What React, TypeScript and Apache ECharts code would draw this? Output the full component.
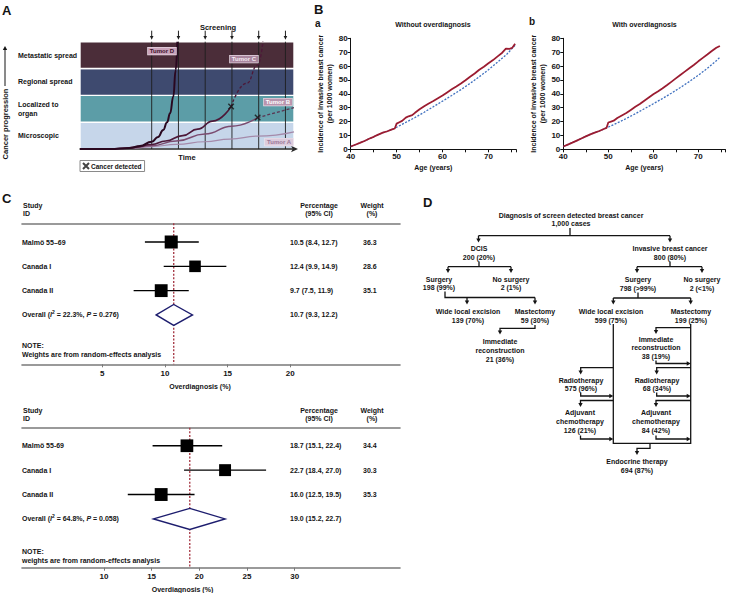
import { useEffect, useRef } from "react";
import * as echarts from "echarts";

const FONT = '"Liberation Sans", Arial, Helvetica, sans-serif';
const INK = "#141414";

// ---------- Panel A data ----------
const bandNames = ["Microscopic", "Localized to\norgan", "Regional spread", "Metastatic spread"];
const screeningTimes = [33.5, 46, 58.5, 71, 83.5, 96];
const tumorA = [[0, 0], [14, 0], [25, 0.03], [33.5, 0.09], [45, 0.17], [58.4, 0.27], [70, 0.37], [83, 0.48], [100, 0.64]];
const tumorBSolid = [[0, 0], [14, 0], [22, 0.03], [33.5, 0.12], [45, 0.3], [58.4, 0.56], [70.9, 0.85], [83, 1.17]];
const tumorBDashed = [[83, 1.17], [100, 1.54]];
const tumorCSolid = [[0, 0], [14, 0], [20, 0.02], [26, 0.07], [33.5, 0.17], [40, 0.3], [48, 0.5], [55, 0.74], [62, 1.04], [70.6, 1.58]];
const tumorCDashed = [[70.6, 1.58], [77.9, 2.45], [83, 3.13], [85.5, 4]];
const tumorD = [[0, 0], [14, 0], [23.4, 0.04], [28, 0.11], [33.5, 0.27], [36.5, 0.45], [38.9, 0.71], [40.7, 1.0], [42.1, 1.33], [43.6, 1.95], [44.7, 2.94], [45.5, 4]];
const detectedPoints = [[70.6, 1.58], [83, 1.17]];
const tumorLabelNames = ["Tumor D", "Tumor C", "Tumor B", "Tumor A"];
const tumorLabelAnchors = [[38.3, 3.65], [76.6, 3.35], [92.5, 1.75], [93, 0.26]];

// ---------- Panel B data ----------
const ageARed = [40, 41, 42, 43, 44, 45, 46, 47, 48, 49, 49.6, 50, 50.6, 51.2, 52, 52.6, 53.4, 54, 55, 56, 57, 58, 59, 60, 61, 62, 63, 64, 65, 66, 67, 68, 69, 70, 71, 72, 73, 73.8, 74.6, 75.2, 75.8];
const incARed = [2, 3.3, 4.6, 6, 7.6, 9, 10.6, 12, 13, 14.3, 15, 18.5, 19.5, 20.5, 22.8, 23.8, 24.6, 26.3, 28.8, 31, 33, 34.8, 36.8, 38.8, 41, 43.2, 45.3, 47.5, 49.8, 52.3, 54.6, 57.3, 59.5, 62, 64.3, 67, 69.6, 72.5, 72.4, 73.2, 76];
const ageABlue = [40, 41, 42, 43, 44, 45, 46, 47, 48, 49, 50, 52, 54, 56, 58, 60, 62, 64, 66, 68, 70, 72, 74, 75.8];
const incABlue = [2, 3.3, 4.6, 6, 7.6, 9, 10.6, 12, 13, 14.3, 15.9, 19.4, 22.9, 26.7, 30.7, 34.7, 38.8, 43, 47.5, 52.3, 57.3, 62.8, 68.5, 75];
const ageBRed = [40, 41, 42, 43, 44, 45, 46, 47, 48, 49, 49.6, 50, 50.6, 51.2, 52, 53, 54, 55, 56, 57, 58, 59, 60, 61, 62, 63, 64, 65, 66, 67, 68, 69, 70, 71, 72, 73, 74, 74.8];
const incBRed = [2, 3.4, 4.8, 6.3, 7.8, 9.3, 10.8, 12, 13.2, 14.6, 15.4, 19.3, 20, 20.6, 22.6, 24.4, 26.2, 28.4, 30.6, 32.6, 35, 37.3, 39.6, 41.6, 43.8, 46.1, 48.6, 51.1, 53.6, 56, 58.4, 60.8, 63.4, 65.9, 68.3, 70.8, 73.2, 74.5];
const ageBBlue = [40, 41, 42, 43, 44, 45, 46, 47, 48, 49, 50, 52, 54, 56, 58, 60, 62, 64, 66, 68, 70, 72, 74, 74.8];
const incBBlue = [2, 3.4, 4.8, 6.3, 7.8, 9.3, 10.8, 12, 13.2, 14.6, 16, 19, 22.2, 25.6, 29.2, 32.8, 36.5, 40.4, 44.5, 48.8, 53.4, 58.3, 63.8, 66.3];

// ---------- Panel C data ----------
const c1Names = ["Malmö 55–69", "Canada I", "Canada II"];
const c1Est = [10.5, 12.4, 9.7];
const c1Lo = [8.4, 9.9, 7.5];
const c1Hi = [12.7, 14.9, 11.9];
const c1Weight = [36.3, 28.6, 35.1];
const c1Overall = [10.7, 9.3, 12.2];
const c1Het = ["22.3%", "0.276"];
const c1Ticks = [5, 10, 15, 20];

const c2Names = ["Malmö 55-69", "Canada I", "Canada II"];
const c2Est = [18.7, 22.7, 16.0];
const c2Lo = [15.1, 18.4, 12.5];
const c2Hi = [22.4, 27.0, 19.5];
const c2Weight = [34.4, 30.3, 35.3];
const c2Overall = [19.0, 15.2, 22.7];
const c2Het = ["64.8%", "0.058"];
const c2Ticks = [10, 15, 20, 25, 30];

// ---------- Panel D (flow diagram) ----------
const flowNodes: { x: number; y: number; lines: string[] }[] = [
  { x: 571, y: 215, lines: ["Diagnosis of screen detected breast cancer", "1,000 cases"] },
  { x: 479, y: 248.8, lines: ["DCIS", "200 (20%)"] },
  { x: 670, y: 248.8, lines: ["Invasive breast cancer", "800 (80%)"] },
  { x: 439, y: 279, lines: ["Surgery", "198 (99%)"] },
  { x: 511, y: 279, lines: ["No surgery", "2 (1%)"] },
  { x: 468, y: 311.5, lines: ["Wide local excision", "139 (70%)"] },
  { x: 535, y: 311.5, lines: ["Mastectomy", "59 (30%)"] },
  { x: 500, y: 341.7, lines: ["Immediate", "reconstruction", "21 (36%)"] },
  { x: 638, y: 279.5, lines: ["Surgery", "798 (>99%)"] },
  { x: 702, y: 279.5, lines: ["No surgery", "2 (<1%)"] },
  { x: 611, y: 311.5, lines: ["Wide local excision", "599 (75%)"] },
  { x: 691, y: 311.5, lines: ["Mastectomy", "199 (25%)"] },
  { x: 656, y: 339, lines: ["Immediate", "reconstruction", "38 (19%)"] },
  { x: 581, y: 380, lines: ["Radiotherapy", "575 (96%)"] },
  { x: 657, y: 380, lines: ["Radiotherapy", "68 (34%)"] },
  { x: 580, y: 412.7, lines: ["Adjuvant", "chemotherapy", "126 (21%)"] },
  { x: 656, y: 412.7, lines: ["Adjuvant", "chemotherapy", "84 (42%)"] },
  { x: 637, y: 461.7, lines: ["Endocrine therapy", "694 (87%)"] },
];
const flowLinks: { pts: number[][]; arrow?: boolean }[] = [
  { pts: [[570, 228], [570, 235.7]] },
  { pts: [[478.5, 235.7], [670, 235.7]] },
  { pts: [[478.5, 235.7], [478.5, 242.5]], arrow: true },
  { pts: [[670, 235.7], [670, 242.5]], arrow: true },
  { pts: [[479, 261.5], [479, 266.7]] },
  { pts: [[448, 266.7], [511, 266.7]] },
  { pts: [[448, 266.7], [448, 273]], arrow: true },
  { pts: [[511, 266.7], [511, 273]], arrow: true },
  { pts: [[670, 261.5], [670, 266.7]] },
  { pts: [[637, 266.7], [702, 266.7]] },
  { pts: [[637, 266.7], [637, 273]], arrow: true },
  { pts: [[702, 266.7], [702, 273]], arrow: true },
  { pts: [[445, 291.5], [445, 297.5], [535, 297.5]] },
  { pts: [[467, 297.5], [467, 304.5]], arrow: true },
  { pts: [[535, 297.5], [535, 304.5]], arrow: true },
  { pts: [[638, 292.5], [638, 298]] },
  { pts: [[613.3, 298], [690.7, 298]] },
  { pts: [[613.3, 298], [613.3, 304.5]], arrow: true },
  { pts: [[690.7, 298], [690.7, 304.5]], arrow: true },
  { pts: [[535, 325], [535, 328.3], [500, 328.3], [500, 334.5]], arrow: true },
  { pts: [[613.3, 324], [613.3, 443.3], [690.7, 443.3], [690.7, 324]] },
  { pts: [[690.7, 327.7], [656, 327.7], [656, 334]], arrow: true },
  { pts: [[656, 360.5], [656, 363.5], [690.7, 363.5]], arrow: true },
  { pts: [[690.7, 367.7], [656.7, 367.7], [656.7, 374.5]], arrow: true },
  { pts: [[656.7, 392.5], [656.7, 396], [690.7, 396]], arrow: true },
  { pts: [[690.7, 400.5], [656, 400.5], [656, 407]], arrow: true },
  { pts: [[656, 435.5], [656, 439], [690.7, 439]], arrow: true },
  { pts: [[613.3, 367.7], [580.7, 367.7], [580.7, 374.5]], arrow: true },
  { pts: [[580.7, 392.5], [580.7, 396], [613.3, 396]], arrow: true },
  { pts: [[613.3, 400.5], [580.5, 400.5], [580.5, 407]], arrow: true },
  { pts: [[580.5, 435.5], [580.5, 439], [613.3, 439]], arrow: true },
  { pts: [[650, 443.3], [650, 448.3], [637, 448.3], [637, 455]], arrow: true },
];

// ---------- styles ----------
const bandColors = ["#c6d6ea", "#5c9da7", "#3e4a6f", "#4b2d39"];
const tumorBoxFill = ["#caa3ba", "#a9869e", "#b995ae", "#dccbdc"];
const tumorBoxText = ["#3a1028", "#f6ecf2", "#ffffff", "#9a7898"];

const zip = (a: number[], b: number[]) => a.map((v, i) => [v, b[i]]);

function txt(text: string, x: number, y: number, size = 7, align = "center", extra: any = {}) {
  return {
    type: "text",
    x,
    y,
    silent: true,
    style: {
      text,
      font: `bold ${size}px ${FONT}`,
      fill: INK,
      align,
      textAlign: align,
      verticalAlign: "middle",
      textVerticalAlign: "middle",
      lineHeight: size + 2,
      ...extra,
    },
  };
}

function arrowHead(from: number[], to: number[], color = INK) {
  const dx = to[0] - from[0];
  const dy = to[1] - from[1];
  const len = Math.hypot(dx, dy) || 1;
  const ux = dx / len, uy = dy / len;
  const L = 4, H = 2.2;
  const bx = to[0] - ux * L, by = to[1] - uy * L;
  return {
    type: "polygon",
    silent: true,
    shape: { points: [[to[0], to[1]], [bx - uy * H, by + ux * H], [bx + uy * H, by - ux * H]] },
    style: { fill: color },
  };
}

function forestSeries(cfg: any) {
  const { xi, yi, names, est, lo, hi, w, overall, het, yMin, yMax } = cfg;
  const rows = names.map((_: string, i: number) => [est[i], lo[i], hi[i], i, w[i]]);
  const base = { type: "custom", xAxisIndex: xi, yAxisIndex: yi, silent: true, clip: false };
  return [
    {
      ...base,
      z: 1,
      data: [[overall[0]]],
      renderItem: (_p: any, api: any) => {
        const v = api.value(0);
        const a = api.coord([v, yMin]);
        const b = api.coord([v, yMax]);
        return {
          type: "line",
          shape: { x1: a[0], y1: a[1], x2: b[0], y2: b[1] },
          style: { stroke: "#a3303e", lineWidth: 1.3, lineDash: [2, 1.6] },
        };
      },
    },
    {
      ...base,
      z: 2,
      data: rows,
      renderItem: (_p: any, api: any) => {
        const e = api.value(0), l = api.value(1), h = api.value(2), r = api.value(3), wt = api.value(4);
        const pl = api.coord([l, r]);
        const ph = api.coord([h, r]);
        const pe = api.coord([e, r]);
        const s = 13 * Math.sqrt(wt / 36);
        return {
          type: "group",
          children: [
            { type: "line", shape: { x1: pl[0], y1: pl[1], x2: ph[0], y2: ph[1] }, style: { stroke: "#000", lineWidth: 1.4 } },
            { type: "rect", shape: { x: pe[0] - s / 2, y: pe[1] - s / 2, width: s, height: s }, style: { fill: "#000" } },
          ],
        };
      },
    },
    {
      ...base,
      z: 3,
      data: [[overall[0], overall[1], overall[2], names.length]],
      renderItem: (_p: any, api: any) => {
        const e = api.value(0), l = api.value(1), h = api.value(2), r = api.value(3);
        const pl = api.coord([l, r]);
        const ph = api.coord([h, r]);
        const pe = api.coord([e, r]);
        const hh = 10.5;
        return {
          type: "polygon",
          shape: { points: [[pl[0], pl[1]], [pe[0], pe[1] - hh], [ph[0], ph[1]], [pe[0], pe[1] + hh]] },
          style: { fill: "#fff", stroke: "#1d1d6e", lineWidth: 1.4 },
        };
      },
    },
    {
      ...base,
      z: 4,
      data: [0, 1, 2, 3].map((i) => [i]),
      renderItem: (params: any, api: any) => {
        const r = api.value(0);
        const y = api.coord([0, r])[1];
        const i = params.dataIndex;
        const common = { fill: INK, fontSize: 7, fontWeight: "bold", fontFamily: FONT, verticalAlign: "middle", textVerticalAlign: "middle" };
        const children: any[] = [];
        if (i < names.length) {
          children.push({ type: "text", x: 22, y, style: { ...common, text: names[i], align: "left", textAlign: "left" } });
          children.push({ type: "text", x: 290, y, style: { ...common, text: `${est[i].toFixed(1)} (${lo[i].toFixed(1)}, ${hi[i].toFixed(1)})`, align: "left", textAlign: "left" } });
          children.push({ type: "text", x: 363, y, style: { ...common, text: w[i].toFixed(1), align: "left", textAlign: "left" } });
        } else {
          children.push({
            type: "text",
            x: 22,
            y,
            style: {
              ...common,
              text: `Overall ({it|I}{sup|2} = ${het[0]}, {it|P} = ${het[1]})`,
              align: "left",
              textAlign: "left",
              rich: {
                it: { fontStyle: "italic", fontWeight: "bold", fontSize: 7, fontFamily: FONT, fill: INK },
                sup: { fontWeight: "bold", fontSize: 5, fontFamily: FONT, fill: INK, padding: [0, 0, 5, 0] },
              },
            },
          });
          children.push({ type: "text", x: 290, y, style: { ...common, text: `${overall[0].toFixed(1)} (${overall[1].toFixed(1)}, ${overall[2].toFixed(1)})`, align: "left", textAlign: "left" } });
        }
        return { type: "group", children };
      },
    },
  ];
}

function forestAxes(gridIndex: number, min: number, max: number, ticks: number[]) {
  const gray = "#7a7a7a";
  return [
    {
      type: "value",
      gridIndex,
      min,
      max,
      position: "bottom",
      axisLine: { show: true, onZero: false, lineStyle: { color: gray, width: 1.6 } },
      axisTick: { show: true, customValues: ticks, length: 3, lineStyle: { color: gray, width: 1 } },
      axisLabel: { show: true, customValues: ticks, fontSize: 8, fontWeight: "bold", fontFamily: FONT, color: INK, margin: 5 },
      splitLine: { show: false },
    },
    {
      type: "value",
      gridIndex,
      min,
      max,
      position: "top",
      axisLine: { show: true, onZero: false, lineStyle: { color: gray, width: 1.6 } },
      axisTick: { show: false },
      axisLabel: { show: false },
      splitLine: { show: false },
    },
  ];
}

function buildOption(): any {
  const lineBase = { type: "line", showSymbol: false, symbol: "none", silent: true };

  const graphics: any[] = [];
  // panel letters
  graphics.push(txt("A", 2, 10, 13, "left"));
  graphics.push(txt("B", 314, 9, 13, "left"));
  graphics.push(txt("a", 315, 23, 10, "left"));
  graphics.push(txt("b", 529, 21, 10, "left"));
  graphics.push(txt("C", 2, 198, 13, "left"));
  graphics.push(txt("D", 423, 202, 13, "left"));
  // panel A extras
  graphics.push(txt("Screening", 218, 27, 7.5));
  graphics.push({
    type: "text",
    x: 5,
    y: 124,
    rotation: Math.PI / 2,
    silent: true,
    style: { text: "Cancer progression", font: `bold 7.5px ${FONT}`, fill: INK, align: "center", textAlign: "center", verticalAlign: "middle", textVerticalAlign: "middle" },
  });
  graphics.push({ type: "line", silent: true, shape: { x1: 5, y1: 86, x2: 5, y2: 50 }, style: { stroke: INK, lineWidth: 1 } });
  graphics.push(arrowHead([5, 86], [5, 46]));
  // panel B titles
  graphics.push(txt("Without overdiagnosis", 433, 24.5, 7));
  graphics.push(txt("With overdiagnosis", 644.5, 24.5, 7));
  // panel C headers
  const cHead = (y1: number, y2: number) => {
    graphics.push(txt("Study", 23, y1, 7, "left"));
    graphics.push(txt("ID", 23, y2, 7, "left"));
    graphics.push(txt("Percentage", 319, y1, 7));
    graphics.push(txt("(95% CI)", 319, y2, 7));
    graphics.push(txt("Weight", 372, y1, 7));
    graphics.push(txt("(%)", 372, y2, 7));
  };
  cHead(205.5, 213.5);
  cHead(410, 418.5);
  graphics.push(txt("NOTE:", 22, 345, 7, "left"));
  graphics.push(txt("Weights are from random-effects analysis", 22, 354.3, 7, "left"));
  graphics.push(txt("Overdiagnosis (%)", 200, 386, 7));
  graphics.push(txt("NOTE:", 22, 551, 7, "left"));
  graphics.push(txt("weights are from random-effects analysis", 22, 560, 7, "left"));
  graphics.push(txt("Overdiagnosis (%)", 182.5, 589, 7));
  // panel D
  const LH = 8.8;
  flowNodes.forEach((n) => {
    const cy = n.y + ((n.lines.length - 1) * LH) / 2;
    graphics.push(txt(n.lines.join("\n"), n.x, cy, 7, "center", { lineHeight: LH }));
  });
  flowLinks.forEach((l) => {
    const pts = l.pts.map((p) => [p[0], p[1]]);
    if (l.arrow) {
      const a = pts[pts.length - 2];
      const b = pts[pts.length - 1];
      const d = Math.hypot(b[0] - a[0], b[1] - a[1]) || 1;
      const sh = Math.min(3, d);
      pts[pts.length - 1] = [b[0] - ((b[0] - a[0]) / d) * sh, b[1] - ((b[1] - a[1]) / d) * sh];
      graphics.push(arrowHead(a, b));
    }
    graphics.push({ type: "polyline", silent: true, shape: { points: pts }, style: { stroke: INK, lineWidth: 1.3, fill: "none" } });
  });

  const bAxisX = (gridIndex: number) => ({
    type: "value",
    gridIndex,
    min: 40,
    max: 76,
    interval: 5,
    axisLine: { show: true, onZero: false, lineStyle: { color: "#111", width: 1 } },
    axisTick: { show: true, length: 3, lineStyle: { color: "#111" } },
    axisLabel: { fontSize: 8, fontWeight: "bold", fontFamily: FONT, color: INK, margin: 3, formatter: (v: number) => (v % 10 === 0 ? String(v) : "") },
    splitLine: { show: false },
    name: "Age (years)",
    nameLocation: "middle",
    nameGap: 14.5,
    nameTextStyle: { fontSize: 7, fontWeight: "bold", fontFamily: FONT, color: INK },
  });
  const bAxisY = (gridIndex: number) => ({
    type: "value",
    gridIndex,
    min: 0,
    max: 80,
    interval: 10,
    axisLine: { show: true, onZero: false, lineStyle: { color: "#111", width: 1 } },
    axisTick: { show: true, length: 3, lineStyle: { color: "#111" } },
    axisLabel: { fontSize: 8, fontWeight: "bold", fontFamily: FONT, color: INK, margin: 3 },
    splitLine: { show: false },
    name: "Incidence of invasive breast cancer\n(per 1000 women)",
    nameLocation: "middle",
    nameGap: 16,
    nameTextStyle: { fontSize: 7, fontWeight: "bold", fontFamily: FONT, color: INK, lineHeight: 9.5 },
  });

  return {
    animation: false,
    backgroundColor: "#fff",
    textStyle: { fontFamily: FONT },
    grid: [
      { left: 80, top: 41.7, width: 214, height: 107.3, outerBoundsMode: "none" },
      { left: 350.7, top: 38.3, width: 165.3, height: 111, outerBoundsMode: "none" },
      { left: 563.3, top: 38.3, width: 162, height: 111, outerBoundsMode: "none" },
      { left: 22, top: 223.3, width: 378, height: 141, outerBoundsMode: "none" },
      { left: 22, top: 427.7, width: 378, height: 140, outerBoundsMode: "none" },
    ],
    legend: {
      data: ["Cancer detected"],
      left: 80,
      top: 160.5,
      orient: "horizontal",
      itemWidth: 6,
      itemHeight: 6,
      itemGap: 2,
      padding: [1.5, 3, 1.5, 2],
      borderColor: "#8a8a8a",
      borderWidth: 1,
      selectedMode: false,
      textStyle: { fontSize: 6.5, fontWeight: "bold", fontFamily: FONT, color: INK, padding: [0, 0, 0, -3] },
    },
    xAxis: [
      {
        type: "value",
        gridIndex: 0,
        min: 0,
        max: 100,
        axisLine: { show: true, onZero: false, symbol: ["none", "arrow"], symbolSize: [5, 7], symbolOffset: [0, 4], lineStyle: { color: "#2a2a2a", width: 1.5 } },
        axisTick: { show: false },
        axisLabel: { show: false },
        splitLine: { show: false },
        name: "Time",
        nameLocation: "middle",
        nameGap: 4.5,
        nameTextStyle: { fontSize: 7.5, fontWeight: "bold", fontFamily: FONT, color: INK },
      },
      bAxisX(1),
      bAxisX(2),
      ...forestAxes(3, -1.41, 28.76, c1Ticks),
      ...forestAxes(4, 1.41, 41.04, c2Ticks),
    ],
    yAxis: [
      {
        type: "value",
        gridIndex: 0,
        min: 0,
        max: 4,
        interval: 0.5,
        axisLine: { show: false },
        axisTick: { show: false },
        splitLine: { show: false },
        axisLabel: {
          show: true,
          align: "left",
          margin: 62,
          fontSize: 7,
          fontWeight: "bold",
          fontFamily: FONT,
          color: INK,
          lineHeight: 9,
          showMinLabel: false,
          showMaxLabel: false,
          formatter: (v: number) => (Math.abs((v % 1) - 0.5) < 1e-6 ? bandNames[Math.floor(v)] : ""),
        },
      },
      bAxisY(1),
      bAxisY(2),
      { type: "value", gridIndex: 3, min: -0.77, max: 5.03, inverse: true, show: false },
      { type: "value", gridIndex: 4, min: -0.74, max: 5.0, inverse: true, show: false },
    ],
    graphic: { elements: graphics },
    series: [
      // Panel A bands
      {
        type: "custom",
        xAxisIndex: 0,
        yAxisIndex: 0,
        silent: true,
        z: 0,
        data: bandNames.map((_, i) => [i]),
        renderItem: (_p: any, api: any) => {
          const i = api.value(0);
          const p1 = api.coord([0, i + 1]);
          const p2 = api.coord([100, i]);
          return {
            type: "rect",
            shape: { x: p1[0], y: p1[1], width: p2[0] - p1[0], height: p2[1] - p1[1] },
            style: { fill: bandColors[i], stroke: "#ffffff", lineWidth: 1.4 },
          };
        },
      },
      // screening lines + arrows
      {
        type: "custom",
        xAxisIndex: 0,
        yAxisIndex: 0,
        silent: true,
        clip: false,
        z: 1,
        data: screeningTimes.map((t) => [t]),
        renderItem: (_p: any, api: any) => {
          const t = api.value(0);
          const top = api.coord([t, 4]);
          const bot = api.coord([t, 0]);
          const x = top[0];
          return {
            type: "group",
            children: [
              { type: "line", shape: { x1: x, y1: top[1], x2: x, y2: bot[1] }, style: { stroke: "#1e1e1e", lineWidth: 0.9 } },
              { type: "line", shape: { x1: x, y1: top[1] - 11, x2: x, y2: top[1] - 5 }, style: { stroke: "#1e1e1e", lineWidth: 1 } },
              { type: "polygon", shape: { points: [[x - 1.8, top[1] - 5.8], [x + 1.8, top[1] - 5.8], [x, top[1] - 2]] }, style: { fill: "#1e1e1e" } },
            ],
          };
        },
      },
      { ...lineBase, name: "Tumor A", xAxisIndex: 0, yAxisIndex: 0, z: 2, smooth: true, smoothMonotone: "x", data: tumorA, lineStyle: { color: "#a58aaa", width: 1.2 } },
      { ...lineBase, name: "Tumor B", xAxisIndex: 0, yAxisIndex: 0, z: 3, smooth: true, smoothMonotone: "x", data: tumorBSolid, lineStyle: { color: "#7b4c70", width: 1.5 } },
      { ...lineBase, name: "Tumor B dashed", xAxisIndex: 0, yAxisIndex: 0, z: 3, data: tumorBDashed, lineStyle: { color: "#5a3552", width: 1.3, type: [3, 2] } },
      { ...lineBase, name: "Tumor C", xAxisIndex: 0, yAxisIndex: 0, z: 4, smooth: true, smoothMonotone: "x", data: tumorCSolid, lineStyle: { color: "#4d1838", width: 1.6 } },
      { ...lineBase, name: "Tumor C dashed", xAxisIndex: 0, yAxisIndex: 0, z: 4, smooth: true, smoothMonotone: "x", data: tumorCDashed, lineStyle: { color: "#4d1838", width: 1.3, type: [3, 2] } },
      { ...lineBase, name: "Tumor D", xAxisIndex: 0, yAxisIndex: 0, z: 5, smooth: true, smoothMonotone: "x", data: tumorD, lineStyle: { color: "#2a0820", width: 2 } },
      {
        type: "scatter",
        name: "Cancer detected",
        xAxisIndex: 0,
        yAxisIndex: 0,
        z: 6,
        silent: true,
        symbol: "path://M0,0L10,10M10,0L0,10",
        symbolSize: 5.5,
        itemStyle: { color: "rgba(0,0,0,0)", borderColor: "#141414", borderWidth: 1.4 },
        data: detectedPoints,
      },
      {
        type: "custom",
        xAxisIndex: 0,
        yAxisIndex: 0,
        silent: true,
        clip: false,
        z: 7,
        data: tumorLabelAnchors,
        renderItem: (params: any, api: any) => {
          const p = api.coord([api.value(0), api.value(1)]);
          const i = params.dataIndex;
          return {
            type: "text",
            x: p[0],
            y: p[1],
            style: {
              text: tumorLabelNames[i],
              fontSize: 6,
              fontWeight: "bold",
              fontFamily: FONT,
              fill: tumorBoxText[i],
              align: "center",
              textAlign: "center",
              verticalAlign: "middle",
              textVerticalAlign: "middle",
              backgroundColor: tumorBoxFill[i],
              borderColor: "#efe4ec",
              borderWidth: 0.6,
              padding: [0.5, 2, 0.5, 2],
            },
          };
        },
      },
      // Panel B
      { ...lineBase, name: "a blue", xAxisIndex: 1, yAxisIndex: 1, data: zip(ageABlue, incABlue), lineStyle: { color: "#3f70bf", width: 1.3, type: [2, 1.5] } },
      { ...lineBase, name: "a red", xAxisIndex: 1, yAxisIndex: 1, data: zip(ageARed, incARed), lineStyle: { color: "#9b1c31", width: 1.8 } },
      { ...lineBase, name: "b blue", xAxisIndex: 2, yAxisIndex: 2, data: zip(ageBBlue, incBBlue), lineStyle: { color: "#3f70bf", width: 1.3, type: [2, 1.5] } },
      { ...lineBase, name: "b red", xAxisIndex: 2, yAxisIndex: 2, data: zip(ageBRed, incBRed), lineStyle: { color: "#9b1c31", width: 1.8 } },
      // Panel C
      ...forestSeries({ xi: 3, yi: 3, names: c1Names, est: c1Est, lo: c1Lo, hi: c1Hi, w: c1Weight, overall: c1Overall, het: c1Het, yMin: -0.77, yMax: 5.03 }),
      ...forestSeries({ xi: 5, yi: 4, names: c2Names, est: c2Est, lo: c2Lo, hi: c2Hi, w: c2Weight, overall: c2Overall, het: c2Het, yMin: -0.74, yMax: 5.0 }),
    ],
  };
}

export default function App() {
  const ref = useRef<HTMLDivElement>(null);
  useEffect(() => {
    document.body.style.margin = "0";
    const chart = echarts.init(ref.current!, undefined, { renderer: "svg", width: 729, height: 593 });
    chart.setOption(buildOption());
    return () => chart.dispose();
  }, []);
  return <div ref={ref} style={{ width: 729, height: 593, background: "#fff" }} />;
}
